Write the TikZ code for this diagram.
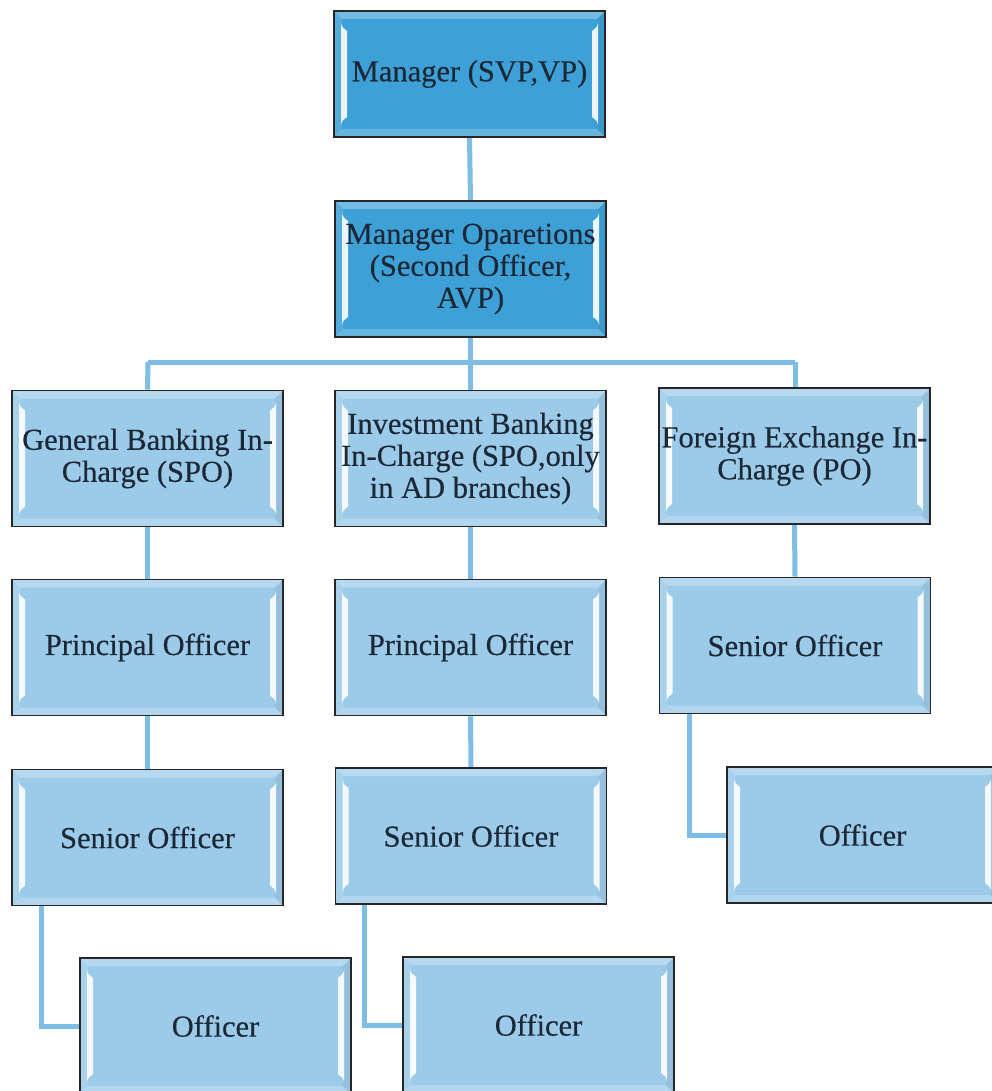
\documentclass[tikz,border=0pt]{standalone}
\usepackage{fontspec}
\setmainfont{Liberation Serif}
\newfontfamily\labelserif[FakeBold=0.35]{Liberation Serif}
\usetikzlibrary{calc}

\definecolor{deepblue}{HTML}{3DA1D7}
\definecolor{paleblue}{HTML}{9CCBEA}
\definecolor{linkblue}{HTML}{7EBDE6}
\definecolor{inkdark}{HTML}{1C2836}

\newcommand{\boxfont}{\labelserif\fontsize{30.5}{32}\selectfont}

\tikzset{
  conn/.style={draw=linkblue, line width=5pt},
  bevelbox/.style={
    draw=black!85, line width=1.6pt,
    minimum width=271pt, minimum height=136pt,
    inner sep=0pt, align=center, font=\boxfont, text=inkdark,
    path picture={
      \coordinate (pa) at (path picture bounding box.north west);
      \coordinate (pb) at (path picture bounding box.south east);
      % top and bottom bevel bands
      \fill[white, opacity=0.28] (pa) -- (pa -| pb) -- ($(pa -| pb)+(-8,8)$) -- ($(pa)+(8,8)$) -- cycle;
      \fill[white, opacity=0.22] (pa |- pb) -- (pb) -- ($(pb)+(-8,-8)$) -- ($(pa |- pb)+(8,-8)$) -- cycle;
      % side bevel bands
      \fill[white, opacity=0.12] (pa) -- ($(pa)+(8,8)$) -- ($(pa |- pb)+(8,-8)$) -- (pa |- pb) -- cycle;
      \fill[black, opacity=0.05] (pa -| pb) -- ($(pa -| pb)+(-8,8)$) -- ($(pb)+(-8,-8)$) -- (pb) -- cycle;
      % bright side highlights
      \fill[white, opacity=0.9] ($(pa)+(7,12)$) .. controls ($(pa)+(8,16)$) .. ($(pa)+(13,20)$)
        -- ($(pa |- pb)+(13,-20)$) .. controls ($(pa |- pb)+(8,-16)$) .. ($(pa |- pb)+(7,-12)$) -- cycle;
      \fill[white, opacity=0.9] ($(pa -| pb)+(-7,12)$) .. controls ($(pa -| pb)+(-8,16)$) .. ($(pa -| pb)+(-13,20)$)
        -- ($(pb)+(-13,-20)$) .. controls ($(pb)+(-8,-16)$) .. ($(pb)+(-7,-12)$) -- cycle;
    }
  },
  headbox/.style={bevelbox, fill=deepblue},
  staffbox/.style={bevelbox, fill=paleblue},
}

\begin{document}
\begin{tikzpicture}[x=1pt, y=-1pt]
  \useasboundingbox (0,0) rectangle (992,1091);
  \clip (0,0) rectangle (992,1091);
  \fill[white] (0,0) rectangle (992,1091);

  % connectors first, boxes drawn on top
  \coordinate (busL) at (148,362);
  \coordinate (busM) at (470.5,362);
  \coordinate (busR) at (795,362);

  \path
    (469.5,74)   node[headbox, minimum height=126pt] (mgr) {}
    (470.5,269)  node[headbox] (ops) {}
    (147.5,458.5) node[staffbox] (gb) {}
    (470.5,458.5) node[staffbox] (ib) {}
    (794.5,456)  node[staffbox] (fx) {}
    (147.5,647.5) node[staffbox] (po1) {}
    (470.5,647.5) node[staffbox] (po2) {}
    (795,645.5)  node[staffbox] (so3) {}
    (147.5,837.5) node[staffbox] (so1) {}
    (471,836)    node[staffbox] (so2) {}
    (862.5,835)  node[staffbox] (of3) {}
    (215.5,1026) node[staffbox] (of1) {}
    (538.5,1025) node[staffbox] (of2) {};

  \begin{scope}[conn]
    \draw (mgr.south) -- (ops.north);
    \draw (ops.south) -- (busM);
    \draw (busL) -- (busR);
    \draw (busL) -- (gb.north);
    \draw (busM) -- (ib.north);
    \draw (busR) -- (fx.north -| busR);
    \draw (gb.south) -- (po1.north);
    \draw (ib.south) -- (po2.north);
    \draw (fx.south) -- (so3.north);
    \draw (po1.south) -- (so1.north);
    \draw (po2.south) -- (so2.north);
    \draw ([xshift=30pt]so1.south west) |- (of1.west);
    \draw ([xshift=30pt]so2.south west) |- (of2.west);
    \draw ([xshift=31pt]so3.south west) |- (of3.west);
  \end{scope}

  % boxes with their labels
  \node[headbox, minimum height=126pt] at (mgr) {Manager (SVP,VP)};
  \node[headbox] at (ops) {Manager Oparetions\\(Second Officer,\\AVP)};
  \node[staffbox] at (gb) {General Banking In-\\Charge (SPO)};
  \node[staffbox] at (ib) {Investment Banking\\In-Charge (SPO,only\\in AD branches)};
  \node[staffbox] at (fx) {Foreign Exchange In-\\Charge (PO)};
  \node[staffbox] at (po1) {Principal Officer};
  \node[staffbox] at (po2) {Principal Officer};
  \node[staffbox] at (so3) {Senior Officer};
  \node[staffbox] at (so1) {Senior Officer};
  \node[staffbox] at (so2) {Senior Officer};
  \node[staffbox] at (of3) {Officer};
  \node[staffbox] at (of1) {Officer};
  \node[staffbox] at (of2) {Officer};
\end{tikzpicture}
\end{document}
